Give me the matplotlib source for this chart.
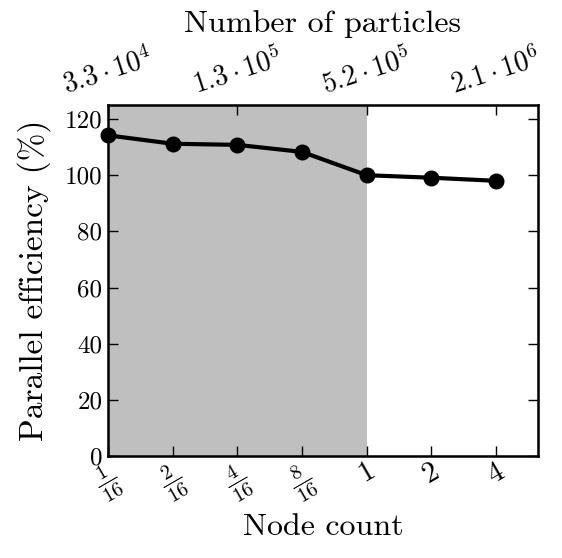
import matplotlib
matplotlib.use("Agg")
import matplotlib.pyplot as plt

plt.rcParams['font.family'] = 'serif'
plt.rcParams['font.serif'] = ['cmr10']
plt.rcParams['mathtext.fontset'] = 'cm'
plt.rcParams['axes.formatter.use_mathtext'] = True

node_labels = [r'$\frac{1}{16}$', r'$\frac{2}{16}$', r'$\frac{4}{16}$', r'$\frac{8}{16}$', r'$1$', r'$2$', r'$4$']
efficiency = [114.2, 111.2, 110.8, 108.3, 100.0, 99.1, 98.0]
particle_labels = [r'$3.3\cdot10^4$', r'$1.3\cdot10^5$', r'$5.2\cdot10^5$', r'$2.1\cdot10^6$']
particle_pos = [0, 2, 4, 6]
shade_end = 4

fig = plt.figure(figsize=(5.62, 5.58), dpi=100)
ax = fig.add_axes([108/562, 1-456/558, (538-108)/562, (456-105)/558])
x = list(range(len(efficiency)))
ax.axvspan(0, shade_end, color='#bfbfbf', lw=0, zorder=0)
ax.plot(x, efficiency, color='black', lw=3, marker='o', ms=10.5, zorder=3, clip_on=False)
ax.set_xlim(0, 6.65)
ax.set_ylim(0, 125)
ax.set_xticks(x)
ax.set_xticklabels(node_labels, rotation=30, fontsize=21)
ax.set_yticks(range(0, 121, 20))
ax.set_yticklabels([str(v) for v in range(0, 121, 20)], fontsize=18)
ax.tick_params(direction='in', length=7, width=1, top=False, right=True, pad=4)
ax.tick_params(axis='x', pad=2)
ax.set_xlabel('Node count', fontsize=23, labelpad=6)
ax.set_ylabel('Parallel efficiency (%)', fontsize=24, labelpad=10)
for s in ax.spines.values():
    s.set_linewidth(1.8)

ax2 = ax.twiny()
ax2.set_xlim(ax.get_xlim())
ax2.set_xticks(particle_pos)
ax2.set_xticklabels(particle_labels, rotation=18, fontsize=20)
ax2.tick_params(direction='in', length=7, width=1, pad=4)
ax2.set_xlabel('Number of particles', fontsize=23, labelpad=8)

fig.savefig('out.png', dpi=100)
